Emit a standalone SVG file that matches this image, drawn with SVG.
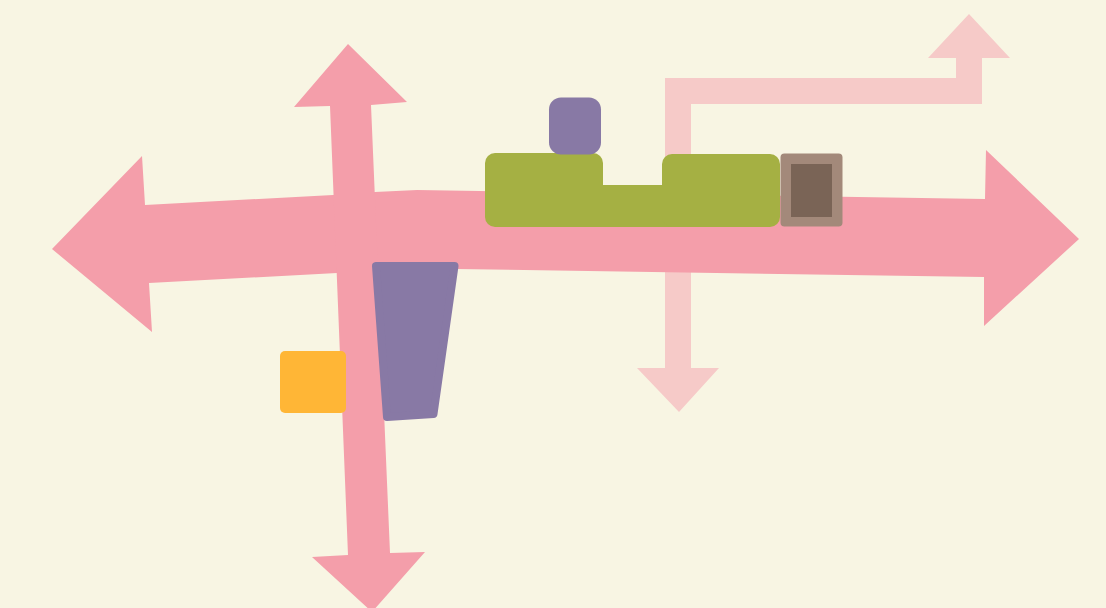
<svg xmlns="http://www.w3.org/2000/svg" width="1106" height="608" viewBox="0 0 1106 608">
<style>
.bg{fill:#f8f5e3}
.big{fill:#f49eaa}
.pale{fill:#f6cac8}
.green{fill:#a5b043}
.purple{fill:#8879a5}
.orange{fill:#ffb636}
</style>
<rect class="bg" x="0" y="0" width="1106" height="608"/>
<g id="connectors">
  <path class="pale" d="M665,368 L665,78 L956,78 L956,58 L928,58 L969,14 L1010,58 L982,58 L982,104 L691,104 L691,368 L719,368 L679,412 L637,368 Z"/>
  <path class="big" d="M52,249 L142,156 L145,205 L333,195 L375,192 L417,190 L985,199 L986,150 L1079,239 L984,326 L984,277 L420,268.5 L337,273 L149,283 L152,332 Z"/>
  <path class="big" d="M348,44 L407,102 L371,105 L390,553 L425,552 L372,612 L312,557 L348,555 L330,106 L294,107 Z"/>
</g>
<g id="node-green">
  <rect class="green" x="485" y="153" width="118" height="74" rx="10"/>
  <rect class="green" x="557" y="185" width="156" height="42" rx="6"/>
  <rect class="green" x="662" y="154" width="118" height="73" rx="10"/>
</g>
<g id="node-purple-square">
  <rect class="purple" x="549" y="97.5" width="52" height="57" rx="12"/>
</g>
<g id="node-brown">
  <rect x="780.5" y="153.5" width="62" height="73" rx="4" fill="#a3897a"/>
  <rect x="791" y="164" width="41" height="53" fill="#7a6456"/>
</g>
<g id="node-orange">
  <rect class="orange" x="280" y="351" width="66" height="62" rx="5"/>
</g>
<g id="node-trapezoid">
  <path class="purple" d="M376,266 L454.5,266 L433.5,414 L387,417 Z" stroke="#8879a5" stroke-width="8" stroke-linejoin="round"/>
</g>
</svg>
